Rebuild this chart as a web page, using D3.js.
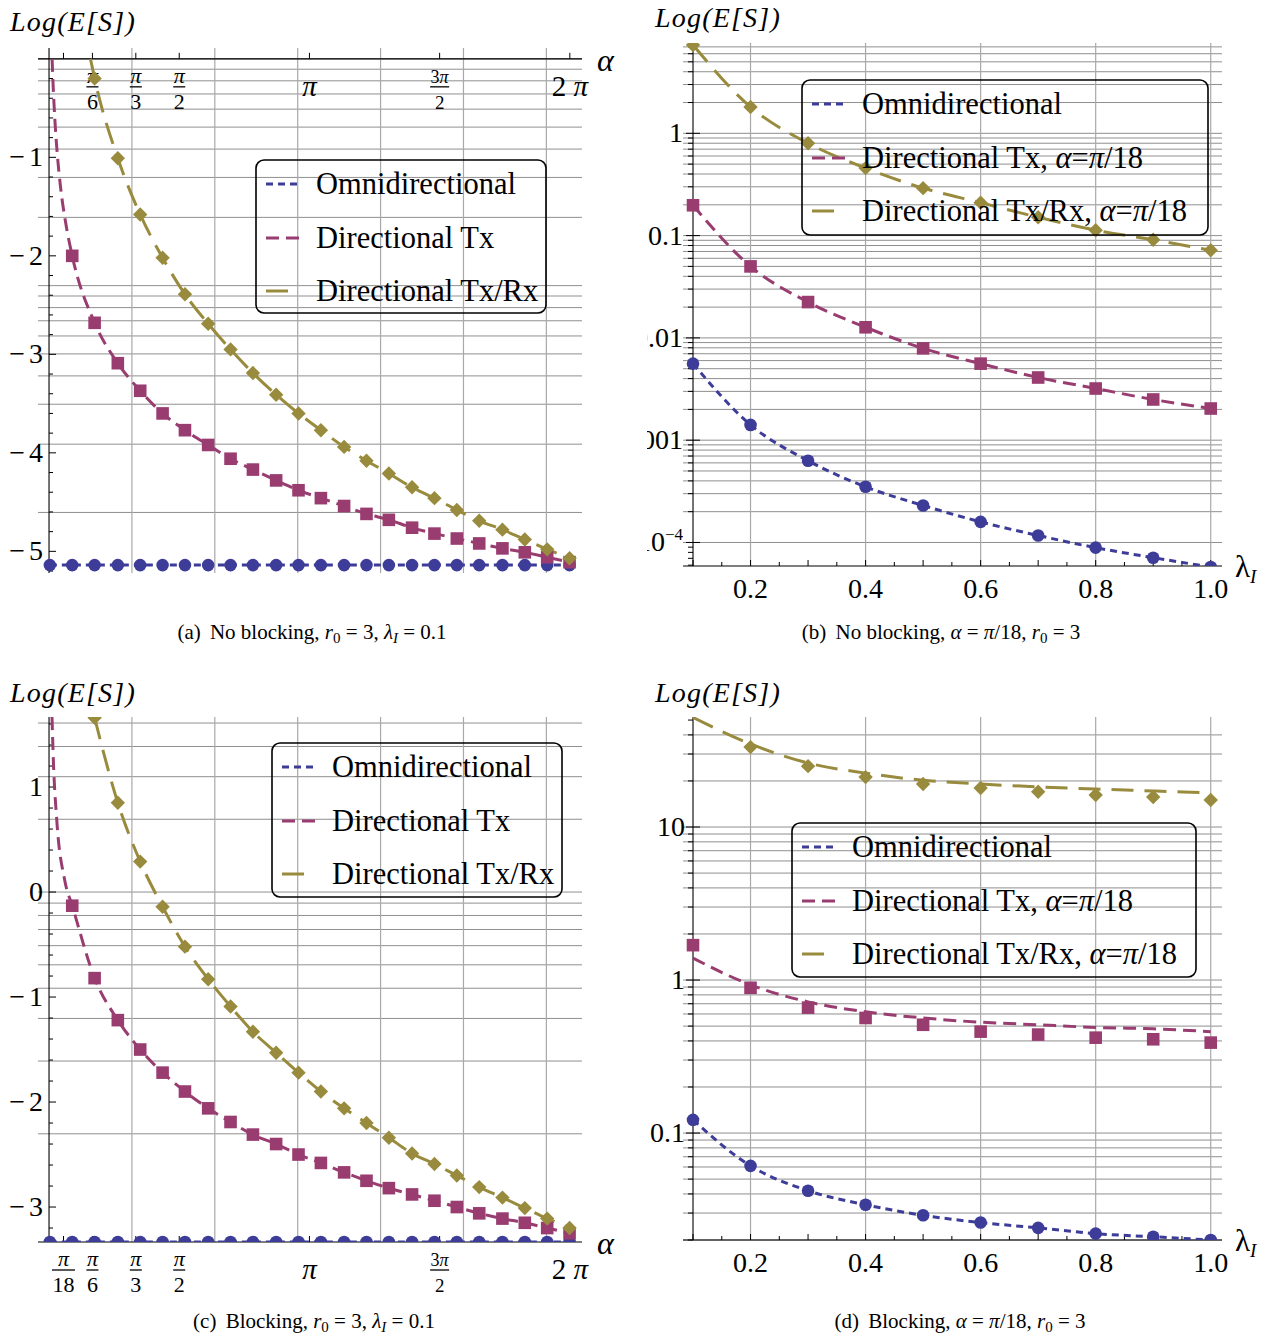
<!DOCTYPE html>
<html><head><meta charset="utf-8">
<script src="https://cdn.jsdelivr.net/npm/d3@7"></script>
<style>
body{margin:0;background:#fff}
svg{display:block}
text{font-family:"Liberation Serif","Times New Roman",serif;fill:#000;white-space:pre}
</style></head><body>
<svg id="fig" width="1271" height="1336"></svg>
<script>
// sample points of alpha (rad), panels (a) and (c)
const alphaPts = [0.01, 0.28, 0.55, 0.83, 1.10, 1.37, 1.64, 1.92, 2.19, 2.46, 2.74, 3.01,
  3.28, 3.56, 3.83, 4.10, 4.38, 4.65, 4.92, 5.19, 5.47, 5.74, 6.01, 6.28];
// sample points of lambda_I, panels (b) and (d)
const lambdaPts = [0.1, 0.2, 0.3, 0.4, 0.5, 0.6, 0.7, 0.8, 0.9, 1.0];

// (a) no blocking, values are Log(E[S]) (natural log)
const omniA = [-5.14, -5.14, -5.14, -5.14, -5.14, -5.14, -5.14, -5.14, -5.14, -5.14, -5.14, -5.14,
  -5.14, -5.14, -5.14, -5.14, -5.14, -5.14, -5.14, -5.14, -5.14, -5.14, -5.14, -5.14];
const txA = [null, -2.00, -2.68, -3.09, -3.37, -3.60, -3.77, -3.92, -4.06, -4.17, -4.28, -4.38,
  -4.46, -4.54, -4.62, -4.68, -4.76, -4.82, -4.87, -4.92, -4.97, -5.01, -5.06, -5.11];
const txrxA = [null, null, -0.20, -1.01, -1.58, -2.02, -2.39, -2.69, -2.95, -3.19, -3.41, -3.60,
  -3.77, -3.94, -4.08, -4.21, -4.35, -4.46, -4.58, -4.69, -4.78, -4.88, -4.98, -5.07];
// analytic curves start above the first markers
const txHeadA = [[0.037, 0], [0.05, -0.28], [0.07, -0.61], [0.1, -0.97], [0.14, -1.31], [0.2, -1.66]];
const txrxHeadA = [[0.50, 0]];

// (c) blocking
const omniC = [-3.333, -3.333, -3.333, -3.333, -3.333, -3.333, -3.333, -3.333, -3.333, -3.333, -3.333, -3.333,
  -3.333, -3.333, -3.333, -3.333, -3.333, -3.333, -3.333, -3.333, -3.333, -3.333, -3.333, -3.333];
const txC = [null, -0.13, -0.82, -1.22, -1.50, -1.72, -1.90, -2.06, -2.19, -2.31, -2.40, -2.50,
  -2.58, -2.67, -2.75, -2.82, -2.88, -2.94, -3.00, -3.06, -3.11, -3.15, -3.20, -3.25];
const txrxC = [null, null, 1.66, 0.85, 0.29, -0.14, -0.52, -0.83, -1.09, -1.33, -1.53, -1.72,
  -1.90, -2.06, -2.20, -2.34, -2.49, -2.59, -2.70, -2.81, -2.91, -3.01, -3.11, -3.20];
const txHeadC = [[0.036, 1.667], [0.052, 1.26], [0.093, 0.69], [0.19, 0.11]];

// (b) no blocking, alpha = pi/18
const omniB = [0.0056, 0.00141, 0.00063, 0.00035, 0.00023, 0.000159, 0.000117, 0.000089, 0.000071, 0.0000576];
const txB = [0.198, 0.050, 0.0224, 0.0127, 0.0079, 0.0056, 0.0041, 0.0032, 0.0025, 0.00204];
const txrxB = [7.3, 1.81, 0.80, 0.457, 0.291, 0.21, 0.151, 0.113, 0.091, 0.072];

// (d) blocking, alpha = pi/18 (markers = simulation, curves = analysis)
const omniD = [0.122, 0.061, 0.042, 0.034, 0.029, 0.026, 0.024, 0.022, 0.021, 0.020];
const txD = [1.69, 0.89, 0.66, 0.565, 0.51, 0.46, 0.44, 0.42, 0.41, 0.39];
const txrxD = [null, 33.3, 25.0, 21.2, 19.1, 18.0, 17.0, 16.2, 15.7, 15.0];
const txCurveD = [1.39, 0.93, 0.72, 0.62, 0.565, 0.53, 0.51, 0.49, 0.48, 0.46];
const txrxCurveD = [52, 34.9, 26.2, 22.5, 20.2, 19.1, 18.3, 17.7, 17.2, 16.7];

// ticks
const alphaTickVals = [Math.PI / 18, Math.PI / 6, Math.PI / 3, Math.PI / 2, Math.PI, 3 * Math.PI / 2, 2 * Math.PI];
const alphaTickText = [["π", "18"], ["π", "6"], ["π", "3"], ["π", "2"], ["π"], ["3π", "2"], ["2π"]];
const yTicksA = [-1, -2, -3, -4, -5];
const yTicksC = [1, 0, -1, -2, -3];
const yTicksB = [1, 0.1, 0.01, 0.001, 0.0001];
const yTicksD = [10, 1, 0.1];
const lambdaTicks = [0.2, 0.4, 0.6, 0.8, 1.0];
const gridMult = [1, 2, 3, 4, 5, 6, 7, 8, 9];

const COL = {omni: '#3d3d99', tx: '#993d71', txrx: '#998b3d'};
const DASH = {omni: '7,5', tx: '13,7', txrx: '22,11'};

const svg = d3.select('#fig');
const defs = svg.append('defs');

const logGrid = decades => decades.flatMap(d => gridMult.map(m => m * d));
const zip = (xs, ys) => xs.map((v, i) => [v, ys[i]]).filter(d => d[1] != null);

function addText(g, x, y, parts, size, anchor, italic) {
	const t = g.append('text').attr('x', x).attr('y', y)
		.attr('font-size', size).attr('text-anchor', anchor || 'start');
	if (italic) t.attr('font-style', 'italic');
	parts.forEach(p => {
		if (typeof p === 'string') { t.append('tspan').text(p); return; }
		const s = t.append('tspan').text(p.t);
		if (p.i) s.attr('font-style', 'italic');
		if (p.fs) s.attr('font-size', p.fs);
		if (p.dy) s.attr('dy', p.dy);
		if (p.dx) s.attr('dx', p.dx);
	});
	return t;
}

function marker(g, kind, cx, cy) {
	if (kind == 'omni') {
		g.append('circle').attr('cx', cx).attr('cy', cy).attr('r', 6.3).attr('fill', COL.omni);
	} else if (kind == 'tx') {
		g.append('rect').attr('x', cx - 6.3).attr('y', cy - 6.3).attr('width', 12.6).attr('height', 12.6).attr('fill', COL.tx);
	} else {
		const s = 7.2;
		g.append('path').attr('d', `M${cx},${cy - s}L${cx + s},${cy}L${cx},${cy + s}L${cx - s},${cy}Z`).attr('fill', COL.txrx);
	}
}

function drawPanel(p) {
	const g = svg.append('g');
	const x = d3.scaleLinear().domain(p.xDom).range([p.left, p.right]);
	const y = (p.log ? d3.scaleLog() : d3.scaleLinear()).domain(p.yDom).range([p.bottom, p.top]);
	const inY = v => y(v) >= p.top - 0.5 && y(v) <= p.bottom + 0.5;

	// grid
	g.append('g').selectAll('line').data(p.hGrid.filter(inY)).join('line')
		.attr('x1', p.left).attr('x2', p.right)
		.attr('y1', d => y(d)).attr('y2', d => y(d))
		.attr('stroke', '#8f8f8f').attr('stroke-width', 1);
	g.append('g').selectAll('line').data(p.vGrid).join('line')
		.attr('x1', d => x(d)).attr('x2', d => x(d))
		.attr('y1', p.top).attr('y2', p.bottom)
		.attr('stroke', '#a9a9a9').attr('stroke-width', 1.2);

	// axes
	const ax = x(p.yAxisAt);
	const ay = y(p.xAxisAt);
	g.append('line').attr('x1', ax).attr('x2', ax).attr('y1', p.top).attr('y2', p.bottom)
		.attr('stroke', '#000').attr('stroke-width', 1.1);
	g.append('line').attr('x1', p.left).attr('x2', p.right).attr('y1', ay).attr('y2', ay)
		.attr('stroke', '#000').attr('stroke-width', 1.1);

	// y ticks
	g.append('g').selectAll('line').data(p.yMajor).join('line')
		.attr('x1', ax - (p.log ? 7 : 0)).attr('x2', ax + 7).attr('y1', d => y(d)).attr('y2', d => y(d))
		.attr('stroke', '#000');
	g.append('g').selectAll('line').data(p.yMinor.filter(inY)).join('line')
		.attr('x1', p.log ? ax - 5 : ax).attr('x2', p.log ? ax : ax + 4).attr('y1', d => y(d)).attr('y2', d => y(d))
		.attr('stroke', '#000');
	const yl = g.append('g');
	if (p.labelClip) {
		defs.append('clipPath').attr('id', 'lc' + p.id).append('rect')
			.attr('x', p.labelClip).attr('y', 0).attr('width', 200).attr('height', 1336);
		yl.attr('clip-path', `url(#lc${p.id})`);
	}
	p.yMajor.forEach(d => {
		let parts;
		if (!p.log) parts = d < 0 ? ['−', {t: String(-d), dx: 4}] : [String(d)];
		else if (d < 0.0005) parts = ['10', {t: '−4', fs: 17, dy: -11}];
		else parts = [String(d)];
		addText(yl, ax - p.labelGap, y(d) + 9, parts, 28, 'end');
	});

	// x ticks
	g.append('g').selectAll('line').data(p.xMajor).join('line')
		.attr('x1', d => x(d)).attr('x2', d => x(d)).attr('y1', ay).attr('y2', ay - 6)
		.attr('stroke', '#000');
	g.append('g').selectAll('line').data(p.xMinor).join('line')
		.attr('x1', d => x(d)).attr('x2', d => x(d)).attr('y1', ay).attr('y2', ay - 4)
		.attr('stroke', '#000');
	if (p.alpha) {
		alphaTickVals.forEach((v, i) => {
			if (p.skipLabel.includes(i)) return;
			const cx = x(v), lab = alphaTickText[i];
			if (lab.length == 1) {
				const parts = lab[0] == 'π' ? [{t: 'π', i: 1}] : ['2', {t: ' π', i: 1}];
				addText(g, cx, ay + 37, parts, 29, 'middle');
				return;
			}
			const small = lab[0] == '3π';
			const fs = small ? 18 : 22;
			const num = addText(g, cx, ay + 24, small ? ['3', {t: 'π', i: 1}] : [{t: 'π', i: 1}], fs, 'middle');
			const den = addText(g, cx, ay + 50, [lab[1]], small ? 19 : 22, 'middle');
			const w = Math.max(num.node().getComputedTextLength(), den.node().getComputedTextLength()) + 1;
			g.append('line').attr('x1', cx - w / 2).attr('x2', cx + w / 2)
				.attr('y1', ay + 28).attr('y2', ay + 28).attr('stroke', '#000').attr('stroke-width', 1.3);
		});
		addText(g, p.right + 15, ay + 12, [{t: 'α', i: 1}], 32);
	} else {
		lambdaTicks.forEach(v => addText(g, x(v), ay + 32, [d3.format('.1f')(v)], 28, 'middle'));
		addText(g, p.right + 13, ay + 11, ['λ', {t: 'I', i: 1, fs: 19, dy: 6}], 31);
	}

	// title
	addText(g, p.titleX, p.titleY, ['Log(E[S])'], 28, 'start', true).attr('letter-spacing', 1.2);

	// data
	defs.append('clipPath').attr('id', 'dc' + p.id).append('rect')
		.attr('x', p.left).attr('y', p.top).attr('width', p.right - p.left).attr('height', p.bottom - p.top);
	const dg = g.append('g').attr('clip-path', `url(#dc${p.id})`);
	const line = d3.line().x(d => x(d[0])).y(d => y(d[1])).curve(d3.curveMonotoneX);
	p.series.forEach(s => {
		dg.append('path').attr('d', line(s.curve)).attr('fill', 'none')
			.attr('stroke', COL[s.kind]).attr('stroke-width', 3).attr('stroke-dasharray', DASH[s.kind]);
	});
	p.series.forEach(s => s.pts.forEach(d => marker(dg, s.kind, x(d[0]), y(d[1]))));

	// legend
	const L = p.legend;
	g.append('rect').attr('x', L.x).attr('y', L.y).attr('width', L.w).attr('height', L.h)
		.attr('rx', 8).attr('fill', 'none').attr('stroke', '#000').attr('stroke-width', 1.6);
	const labels = p.alpha
		? [['Omnidirectional'], ['Directional Tx'], ['Directional Tx/Rx']]
		: [['Omnidirectional'], ['Directional Tx, ', {t: 'α', i: 1}, '=', {t: 'π', i: 1}, '/18'],
			['Directional Tx/Rx, ', {t: 'α', i: 1}, '=', {t: 'π', i: 1}, '/18']];
	['omni', 'tx', 'txrx'].forEach((k, i) => {
		const ry = L.y + [24, 78, 131][i];
		g.append('line').attr('x1', L.x + 10).attr('x2', L.x + 43).attr('y1', ry).attr('y2', ry)
			.attr('stroke', COL[k]).attr('stroke-width', 3).attr('stroke-dasharray', DASH[k]);
		addText(g, L.x + 60, ry + 10, labels[i], 30.5);
	});

	// caption
	addText(g, p.capX, p.capY, p.caption, 21, 'middle');
}

const capSub = (base, sub) => [{t: base, i: 1}, {t: sub, i: base != 'r', fs: 15, dy: 4}];
const EQ = ' = ';

drawPanel({
	id: 'a', alpha: true, log: false,
	left: 38, right: 582, top: 48, bottom: 573,
	xDom: [-0.133, 6.43], yDom: [-5.22, 0.11], yAxisAt: 0, xAxisAt: 0,
	hGrid: logGrid([0.01, 0.1]).concat([1]).map(Math.log),
	vGrid: [1, 2, 3, 4, 5, 6],
	yMajor: yTicksA, yMinor: d3.range(-5.2, 0.01, 0.2).filter(v => Math.abs(v - Math.round(v)) > 0.01),
	xMajor: alphaTickVals, xMinor: [], skipLabel: [0], labelGap: 6,
	titleX: 10, titleY: 31,
	series: [
		{kind: 'omni', pts: zip(alphaPts, omniA), curve: zip(alphaPts, omniA)},
		{kind: 'tx', pts: zip(alphaPts, txA), curve: txHeadA.concat(zip(alphaPts, txA))},
		{kind: 'txrx', pts: zip(alphaPts, txrxA), curve: txrxHeadA.concat(zip(alphaPts, txrxA))}
	],
	legend: {x: 256, y: 160, w: 290, h: 153},
	capX: 312, capY: 639,
	caption: ['(a)', {t: ' No blocking, ', dx: 4}, ...capSub('r', '0'), {t: EQ + '3, ', dy: -4}, ...capSub('λ', 'I'), {t: EQ + '0.1', dy: -4}]
});

drawPanel({
	id: 'b', alpha: false, log: true,
	left: 683, right: 1222, top: 43, bottom: 566,
	xDom: [0.0826, 1.0196], yDom: [Math.pow(10, -4.23), Math.pow(10, 0.883)], yAxisAt: 0.1, xAxisAt: Math.pow(10, -4.23),
	hGrid: logGrid([1e-4, 1e-3, 1e-2, 0.1, 1]),
	vGrid: lambdaTicks,
	yMajor: yTicksB, yMinor: logGrid([1e-5, 1e-4, 1e-3, 1e-2, 0.1, 1]).filter(v => !yTicksB.includes(v)),
	xMajor: d3.range(0.1, 1.01, 0.1), xMinor: d3.range(0.15, 1, 0.1), labelGap: 10, labelClip: 647,
	titleX: 655, titleY: 27,
	series: [
		{kind: 'omni', pts: zip(lambdaPts, omniB), curve: zip(lambdaPts, omniB)},
		{kind: 'tx', pts: zip(lambdaPts, txB), curve: zip(lambdaPts, txB)},
		{kind: 'txrx', pts: zip(lambdaPts, txrxB), curve: zip(lambdaPts, txrxB)}
	],
	legend: {x: 802, y: 80, w: 406, h: 155},
	capX: 941, capY: 639,
	caption: ['(b)', {t: ' No blocking, ', dx: 4}, {t: 'α', i: 1}, EQ, {t: 'π', i: 1}, '/18, ', ...capSub('r', '0'), {t: EQ + '3', dy: -4}]
});

drawPanel({
	id: 'c', alpha: true, log: false,
	left: 38, right: 582, top: 717, bottom: 1242,
	xDom: [-0.133, 6.43], yDom: [-3.333, 1.667], yAxisAt: 0, xAxisAt: -3.333,
	hGrid: logGrid([0.1, 1]).map(Math.log),
	vGrid: [1, 2, 3, 4, 5, 6],
	yMajor: yTicksC, yMinor: d3.range(-3.2, 1.61, 0.2).filter(v => Math.abs(v - Math.round(v)) > 0.01),
	xMajor: alphaTickVals, xMinor: [], skipLabel: [], labelGap: 6,
	titleX: 10, titleY: 702,
	series: [
		{kind: 'omni', pts: zip(alphaPts, omniC), curve: zip(alphaPts, omniC)},
		{kind: 'tx', pts: zip(alphaPts, txC), curve: txHeadC.concat(zip(alphaPts, txC))},
		{kind: 'txrx', pts: zip(alphaPts, txrxC), curve: zip(alphaPts, txrxC)}
	],
	legend: {x: 272, y: 743, w: 290, h: 154},
	capX: 314, capY: 1328,
	caption: ['(c)', {t: ' Blocking, ', dx: 4}, ...capSub('r', '0'), {t: EQ + '3, ', dy: -4}, ...capSub('λ', 'I'), {t: EQ + '0.1', dy: -4}]
});

drawPanel({
	id: 'd', alpha: false, log: true,
	left: 683, right: 1222, top: 717, bottom: 1240,
	xDom: [0.0826, 1.0196], yDom: [0.02, Math.pow(10, 1.719)], yAxisAt: 0.1, xAxisAt: 0.02,
	hGrid: logGrid([0.01, 0.1, 1, 10]).filter(v => v >= 0.0199 && v <= 40.1),
	vGrid: lambdaTicks,
	yMajor: yTicksD, yMinor: logGrid([0.01, 0.1, 1, 10]).filter(v => !yTicksD.includes(v)),
	xMajor: d3.range(0.1, 1.01, 0.1), xMinor: d3.range(0.15, 1, 0.1), labelGap: 8,
	titleX: 655, titleY: 702,
	series: [
		{kind: 'omni', pts: zip(lambdaPts, omniD), curve: zip(lambdaPts, omniD)},
		{kind: 'tx', pts: zip(lambdaPts, txD), curve: zip(lambdaPts, txCurveD)},
		{kind: 'txrx', pts: zip(lambdaPts, txrxD), curve: zip(lambdaPts, txrxCurveD)}
	],
	legend: {x: 792, y: 823, w: 404, h: 154},
	capX: 960, capY: 1328,
	caption: ['(d)', {t: ' Blocking, ', dx: 4}, {t: 'α', i: 1}, EQ, {t: 'π', i: 1}, '/18, ', ...capSub('r', '0'), {t: EQ + '3', dy: -4}]
});
</script>
</body></html>
